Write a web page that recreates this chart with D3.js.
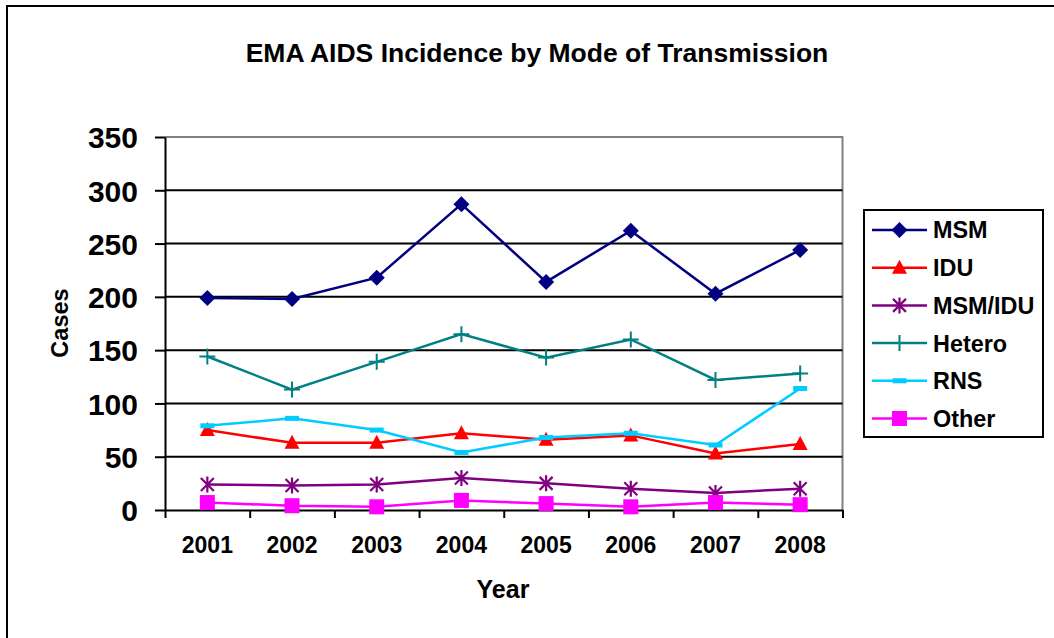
<!doctype html>
<html lang="en">
<head>
<meta charset="utf-8">
<title>EMA AIDS Incidence by Mode of Transmission</title>
<style>
  body { margin: 0; background: #fff; }
  svg { display: block; font-family: "Liberation Sans", Arial, sans-serif; font-weight: bold; }
</style>
</head>
<body>
<script src="https://d3js.org/d3.v7.min.js"></script>
<script>
var years = ["2001", "2002", "2003", "2004", "2005", "2006", "2007", "2008"];
var seriesNames = ["MSM", "IDU", "MSM/IDU", "Hetero", "RNS", "Other"];
var msm = [199, 198, 218, 287, 214, 262, 203, 244];
var idu = [75, 63, 63, 72, 66, 70, 53, 62];
var msmIdu = [24, 23, 24, 30, 25, 20, 16, 20];
var hetero = [144, 113, 139, 165, 143, 160, 122, 128];
var rns = [79, 86, 75, 54, 68, 72, 61, 114];
var other = [7, 4, 3, 9, 6, 3, 7, 5];
var yTicks = [0, 50, 100, 150, 200, 250, 300, 350];

var colors = ["#000080", "#ff0000", "#800080", "#008080", "#00ccff", "#ff00ff"];
var markers = ["diamond", "triangle", "star", "plus", "dash", "square"];
var values = [msm, idu, msmIdu, hetero, rns, other];

var W = 1054, H = 638;
var plotLeft = 165, plotRight = 842.5, plotTop = 137, plotBottom = 510;

var svg = d3.select("body").append("svg")
    .attr("width", W).attr("height", H);

// outer chart border (right/bottom fall off the picture)
svg.append("rect")
    .attr("x", 7).attr("y", 6).attr("width", 1100).attr("height", 700)
    .attr("fill", "none").attr("stroke", "#000").attr("stroke-width", 2);

var x = d3.scaleBand().domain(years).range([plotLeft, plotRight]);
var xEdge = d3.scaleLinear().domain([0, years.length]).range([plotLeft, plotRight]);
var y = d3.scaleLinear().domain([0, 350]).range([plotBottom, plotTop]);

// plot frame: grey top and right
svg.append("path")
    .attr("d", "M" + plotLeft + "," + y(350) + "H" + plotRight + "V" + plotBottom)
    .attr("fill", "none").attr("stroke", "#808080").attr("stroke-width", 2);

// grid lines
svg.append("g").selectAll("line")
    .data(yTicks.filter(function(d) { return d > 0 && d < 350; }))
    .enter().append("line")
    .attr("x1", plotLeft).attr("x2", plotRight)
    .attr("y1", function(d) { return y(d); })
    .attr("y2", function(d) { return y(d); })
    .attr("stroke", "#000").attr("stroke-width", 2);

// y axis
var yAxis = svg.append("g")
    .attr("transform", "translate(" + plotLeft + ",0)")
    .call(d3.axisLeft(y).tickValues(yTicks).tickSizeInner(10).tickSizeOuter(0).tickPadding(17));
yAxis.select(".domain").attr("stroke-width", 2);
yAxis.selectAll(".tick line").attr("stroke-width", 2);
yAxis.selectAll("text").attr("font-size", 30).attr("font-family", null).attr("dy", "0.36em");

// x axis: tick marks on category edges, labels centred
var xTickAxis = svg.append("g")
    .attr("transform", "translate(0," + plotBottom + ")")
    .call(d3.axisBottom(xEdge).ticks(years.length).tickFormat("").tickSizeInner(8).tickSizeOuter(0));
xTickAxis.select(".domain").attr("stroke-width", 2);
xTickAxis.selectAll(".tick line").attr("stroke-width", 2);

var xAxis = svg.append("g")
    .attr("transform", "translate(0," + plotBottom + ")")
    .call(d3.axisBottom(x).tickSize(0).tickPadding(27));
xAxis.select(".domain").remove();
xAxis.selectAll("text").attr("font-size", 23).attr("font-family", null);

// titles
svg.append("text")
    .attr("x", 537).attr("y", 62).attr("text-anchor", "middle")
    .attr("font-size", 26.5).text("EMA AIDS Incidence by Mode of Transmission");
svg.append("text")
    .attr("x", 503).attr("y", 598).attr("text-anchor", "middle")
    .attr("font-size", 25).text("Year");
svg.append("text")
    .attr("transform", "translate(68,323) rotate(-90)")
    .attr("text-anchor", "middle")
    .attr("font-size", 23.5).text("Cases");

function drawMarker(g, type, color) {
  if (type === "diamond") {
    g.append("path").attr("d", "M0,-8L8,0L0,8L-8,0Z").attr("fill", color);
  } else if (type === "triangle") {
    g.append("path").attr("d", "M0,-8L7.5,6L-7.5,6Z").attr("fill", color);
  } else if (type === "square") {
    g.append("rect").attr("x", -7.5).attr("y", -7.5).attr("width", 15).attr("height", 15).attr("fill", color);
  } else if (type === "dash") {
    g.append("rect").attr("x", -7).attr("y", -2.5).attr("width", 14).attr("height", 5).attr("fill", color);
  } else if (type === "plus") {
    g.append("path").attr("d", "M-8,0H8M0,-8V8").attr("stroke", color).attr("stroke-width", 2);
  } else if (type === "star") {
    g.append("path").attr("d", "M0,-8V8M-6.5,-6.5L6.5,6.5M6.5,-6.5L-6.5,6.5")
        .attr("stroke", color).attr("stroke-width", 2.2);
  }
}

var line = d3.line()
    .x(function(d, i) { return x(years[i]) + x.bandwidth() / 2; })
    .y(function(d) { return y(d); });

values.forEach(function(vals, s) {
  svg.append("path")
      .datum(vals)
      .attr("d", line)
      .attr("fill", "none")
      .attr("stroke", colors[s])
      .attr("stroke-width", 2.5);
  vals.forEach(function(v, i) {
    var g = svg.append("g")
        .attr("transform", "translate(" + (x(years[i]) + x.bandwidth() / 2) + "," + y(v) + ")");
    drawMarker(g, markers[s], colors[s]);
  });
});

// legend
var legend = svg.append("g");
legend.append("rect")
    .attr("x", 864).attr("y", 210).attr("width", 179).attr("height", 227)
    .attr("fill", "#fff").attr("stroke", "#000").attr("stroke-width", 2);
seriesNames.forEach(function(name, s) {
  var ly = 230 + s * 37.7;
  legend.append("line")
      .attr("x1", 872).attr("x2", 927).attr("y1", ly).attr("y2", ly)
      .attr("stroke", colors[s]).attr("stroke-width", 2.5);
  var g = legend.append("g").attr("transform", "translate(899.5," + ly + ")");
  drawMarker(g, markers[s], colors[s]);
  legend.append("text")
      .attr("x", 933).attr("y", ly).attr("dy", "0.36em")
      .attr("font-size", 23.4).text(name);
});
</script>
</body>
</html>
